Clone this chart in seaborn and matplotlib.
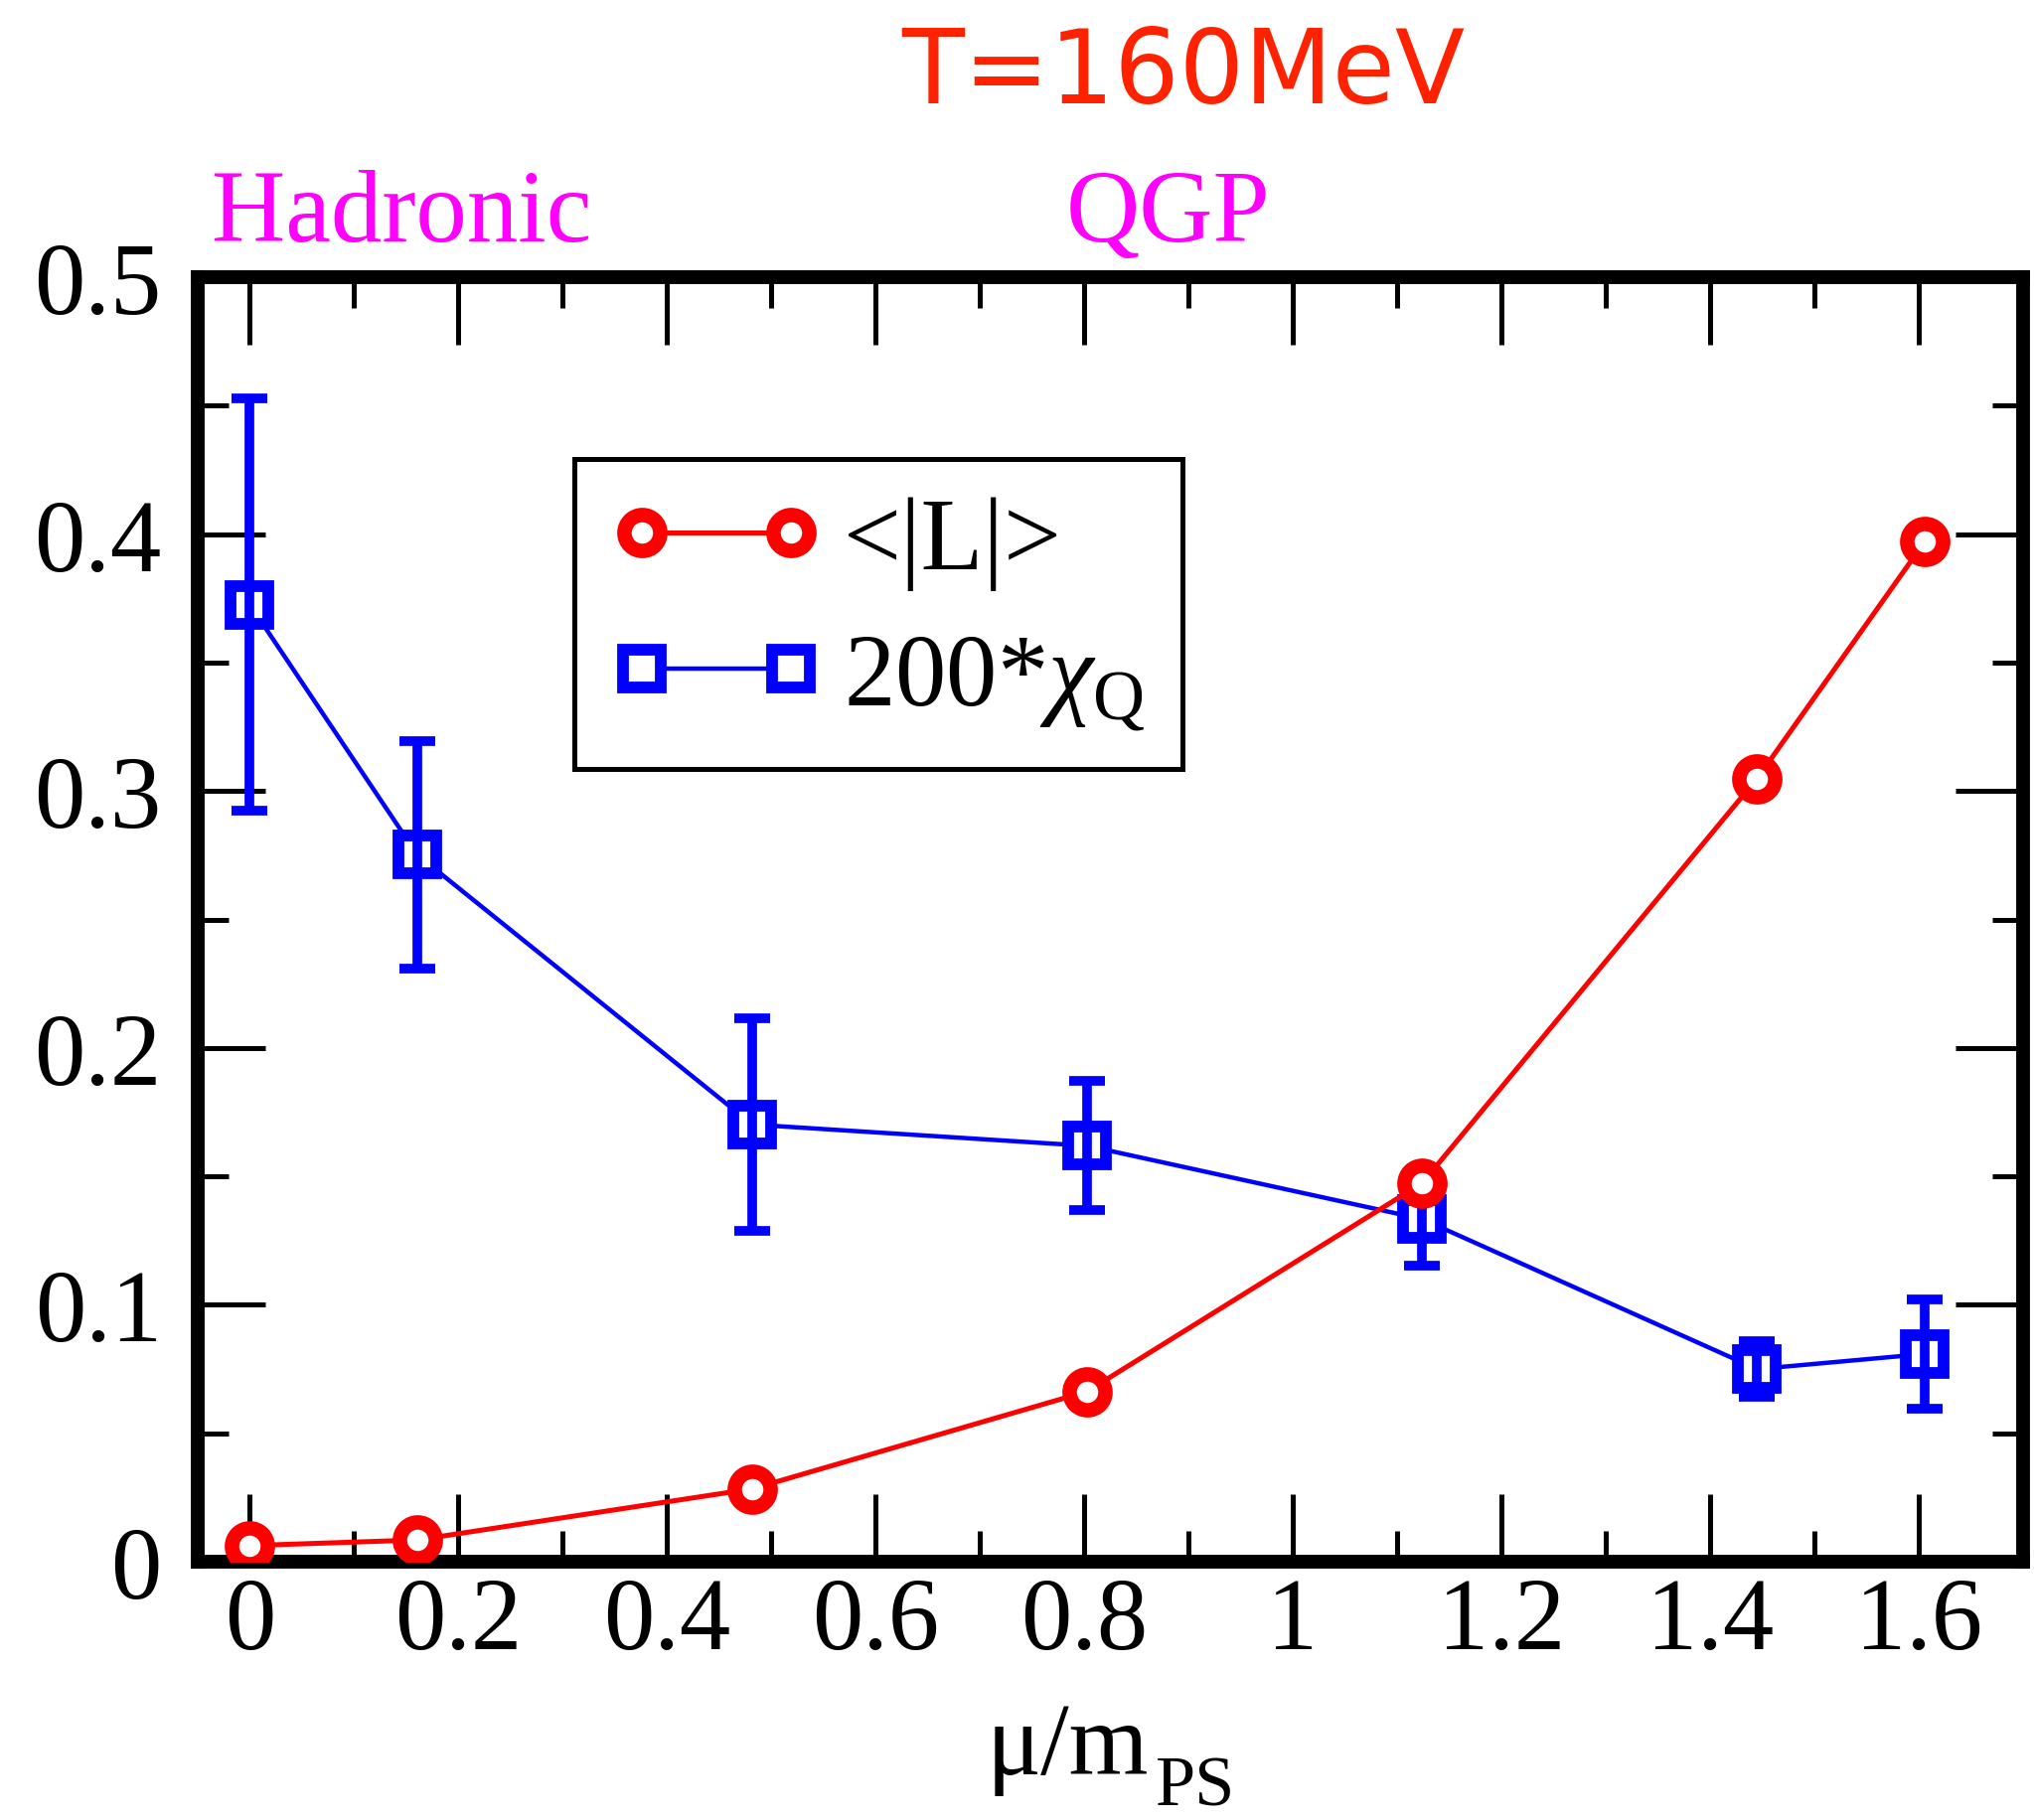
import numpy as np
import pandas as pd
import matplotlib
matplotlib.use("Agg")
import matplotlib.pyplot as plt
from matplotlib.ticker import MultipleLocator, FuncFormatter
import seaborn as sns

# ---- data ----
mu_over_mps = [0.0, 0.1606, 0.4818, 0.803, 1.1242, 1.4454, 1.606]
polyakov_L = [0.0063, 0.0085, 0.0284, 0.0663, 0.1474, 0.3049, 0.3970]
chi_q200 = [0.3726, 0.2752, 0.1702, 0.1619, 0.1334, 0.0750, 0.0809]
chi_q200_err = [0.0803, 0.0443, 0.0414, 0.0251, 0.0183, 0.0107, 0.0213]
x_ticks = [0, 0.2, 0.4, 0.6, 0.8, 1.0, 1.2, 1.4, 1.6]
y_ticks = [0, 0.1, 0.2, 0.3, 0.4, 0.5]

df = pd.DataFrame({"x": mu_over_mps, "L": polyakov_L,
                   "chi": chi_q200, "err": chi_q200_err})

sns.set_theme(style="ticks")
plt.rcParams["font.family"] = ["Liberation Serif", "DejaVu Serif"]
plt.rcParams["mathtext.fontset"] = "custom"
plt.rcParams["mathtext.rm"] = "Liberation Serif"
plt.rcParams["mathtext.it"] = "Liberation Serif:italic"
plt.rcParams["text.color"] = "black"
plt.rcParams["axes.labelcolor"] = "black"

FS = 74
fig = plt.figure(figsize=(20.47, 18.33), dpi=100)
ax = fig.add_axes([0.0972, 0.1418, 0.8972, 0.7054])

# blue series
sns.lineplot(data=df, x="x", y="chi", ax=ax, sort=False, color="blue",
             linewidth=3.2, marker="s", markersize=28, markeredgewidth=8.5,
             markerfacecolor="white", markeredgecolor="blue", zorder=3,
             label="200*$\\chi_{\\rm Q}$")
ax.errorbar(df["x"], df["chi"], yerr=df["err"], fmt="none", ecolor="blue",
            elinewidth=7, capsize=13, capthick=7, zorder=4)
# red series
sns.lineplot(data=df, x="x", y="L", ax=ax, sort=False, color="red",
             linewidth=3.6, marker="o", markersize=26, markeredgewidth=10.5,
             markerfacecolor="white", markeredgecolor="red", zorder=5,
             label="<|L|>")

ax.set_xlim(-0.05, 1.7)
ax.set_ylim(0, 0.5)
ax.set_xticks(x_ticks)
ax.set_yticks(y_ticks)
ax.xaxis.set_minor_locator(MultipleLocator(0.1))
ax.yaxis.set_minor_locator(MultipleLocator(0.05))
fmt = FuncFormatter(lambda v, p: f"{v:g}")
ax.xaxis.set_major_formatter(fmt)
ax.yaxis.set_major_formatter(fmt)

ax.tick_params(which="both", direction="in", top=True, right=True,
               width=3.6, color="black", labelsize=FS, labelcolor="black")
ax.tick_params(which="major", length=49)
ax.tick_params(which="minor", length=22)
ax.tick_params(axis="x", which="major", pad=11)
ax.tick_params(axis="y", which="major", pad=26)
for s in ax.spines.values():
    s.set_linewidth(10)
    s.set_color("black")
    s.set_visible(True)

ax.set_xlabel("")
ax.set_ylabel("")
# x-axis title: mu / m with a lowered "PS" subscript
fig.text(993 / 2047, 1 - 1786 / 1833, "μ/m", fontsize=FS, color="black",
         ha="left", va="baseline")
fig.text(1163 / 2047, 1 - 1818 / 1833, "PS", fontsize=52, color="black",
         ha="left", va="baseline")

handles, labels = ax.get_legend_handles_labels()
order = [labels.index("<|L|>"), labels.index("200*$\\chi_{\\rm Q}$")]
leg = ax.legend([handles[i] for i in order], [labels[i] for i in order],
                loc="upper left", bbox_to_anchor=(0.2064, 0.8584),
                borderaxespad=0, fontsize=FS, numpoints=2, handlelength=2.06,
                handletextpad=0.22, borderpad=0.36, labelspacing=0.42,
                fancybox=False, framealpha=1, edgecolor="black")
leg.get_frame().set_linewidth(3.6)
for t in leg.get_texts():
    t.set_color("black")

fig.text(0.5818, 0.943, "T=160MeV", color="#ff2200", fontsize=74,
         family=["DejaVu Sans"], ha="center", va="baseline")
fig.text(0.1039, 0.8673, "Hadronic", color="#ff00ff", fontsize=74,
         ha="left", va="baseline")
fig.text(0.5242, 0.8673, "QGP", color="#ff00ff", fontsize=74,
         ha="left", va="baseline")

fig.savefig("out.png", dpi=100, facecolor="white")
